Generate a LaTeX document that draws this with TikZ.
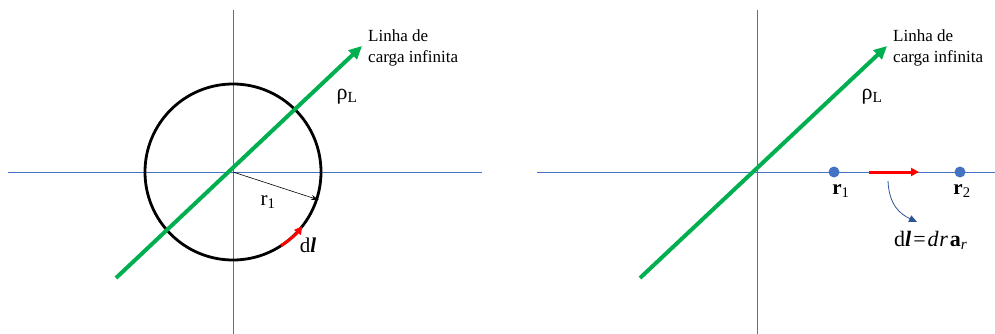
\documentclass[tikz,border=0pt]{standalone}
\usepackage{fontspec}
\setmainfont{Liberation Serif}
\usetikzlibrary{arrows.meta}
\definecolor{axisblue}{RGB}{68,114,196}
\definecolor{linegreen}{RGB}{0,176,80}
\definecolor{dotblue}{RGB}{68,114,196}
\definecolor{curvblue}{RGB}{47,85,151}
\begin{document}
\begin{tikzpicture}[x=1pt,y=-1pt,
  axis/.style={draw=axisblue, line width=0.9pt},
  gline/.style={draw=linegreen, line width=4pt, -{Triangle[length=13pt,width=12pt]}},
  circ/.style={draw=black, line width=2.8pt},
  redarr/.style={draw=red, line width=3pt, -{Triangle[length=8pt,width=8pt]}},
  radius arrow/.style={draw=black, line width=0.6pt, -{Stealth[length=8pt,width=5pt]}},
  curvarr/.style={draw=curvblue, line width=0.8pt, -{Triangle[length=8pt,width=7pt]}},
  lbl/.style={font=\fontsize{17}{21}\selectfont, align=left, anchor=north west, inner sep=0pt},
  rho/.style={font=\fontsize{22}{24}\selectfont, inner sep=0pt},
  big/.style={font=\fontsize{21}{23}\selectfont, inner sep=0pt},
  dot/.style={circle, fill=dotblue, minimum size=11pt, inner sep=0pt}]
\useasboundingbox (0,0) rectangle (995,334);
\fill[white] (0,0) rectangle (995,334);
% ---------- left panel ----------
\coordinate (LO) at (233,172);
\coordinate (Ltop) at (233,10);
\coordinate (Lbot) at (233,334);
\coordinate (Lleft) at (8,172);
\coordinate (Lright) at (482,172);
\draw[axis] (Ltop) -- (Lbot);
\draw[axis] (Lleft) -- (Lright);
\draw[circ] (LO) circle (88);
\coordinate (Lg1) at (116,278);
\coordinate (Lg2) at (362,46);
\draw[gline] (Lg1) -- (Lg2);
\coordinate (Lr1) at (319,200);
\draw[radius arrow] (LO) -- (Lr1);
\draw[redarr] (LO) ++(57:88) arc[start angle=57, end angle=38, radius=88];
\node[lbl] (Ltxt) at (368,30) {Linha de\\carga infinita};
\node[rho] (Lrho) at (347,97) {ρ\textsubscript{L}};
\node[big] (Lr1lbl) at (268,202) {r\textsubscript{1}};
\node[big] (Ldl) at (308,245) {d\textbf{\textit{l}}};
% ---------- right panel ----------
\coordinate (RO) at (757,172);
\coordinate (Rtop) at (757,10);
\coordinate (Rbot) at (757,334);
\coordinate (Rleft) at (537,172);
\coordinate (Rright) at (995,172);
\draw[axis] (Rtop) -- (Rbot);
\draw[axis] (Rleft) -- (Rright);
\coordinate (Rg1) at (640,278);
\coordinate (Rg2) at (887,46);
\draw[gline] (Rg1) -- (Rg2);
\node[lbl] (Rtxt) at (893,30) {Linha de\\carga infinita};
\node[rho] (Rrho) at (872,97) {ρ\textsubscript{L}};
\node[dot] (P1) at (834,172) {};
\node[dot] (P2) at (960,172) {};
\node[big] (P1lbl) at (841,191) {\textbf{r}\textsubscript{1}};
\node[big] (P2lbl) at (962,191) {\textbf{r}\textsubscript{2}};
\coordinate (Ra1) at (869,172);
\coordinate (Ra2) at (919,172);
\draw[redarr] (Ra1) -- (Ra2);
\coordinate (Rc1) at (888,181);
\node[font=\fontsize{22}{24}\selectfont, inner sep=0pt, anchor=base west] (Rdl) at (894,246) {d\textbf{\textit{l}}\hspace{2pt}=\hspace{2pt}\textit{d}\hspace{0.5pt}\textit{r}\hspace{2pt}\textbf{a}\textsubscript{\textit{r}}};
\draw[curvarr] (Rc1) .. controls (889,205) and (900,214) .. (917,222);
\end{tikzpicture}
\end{document}
